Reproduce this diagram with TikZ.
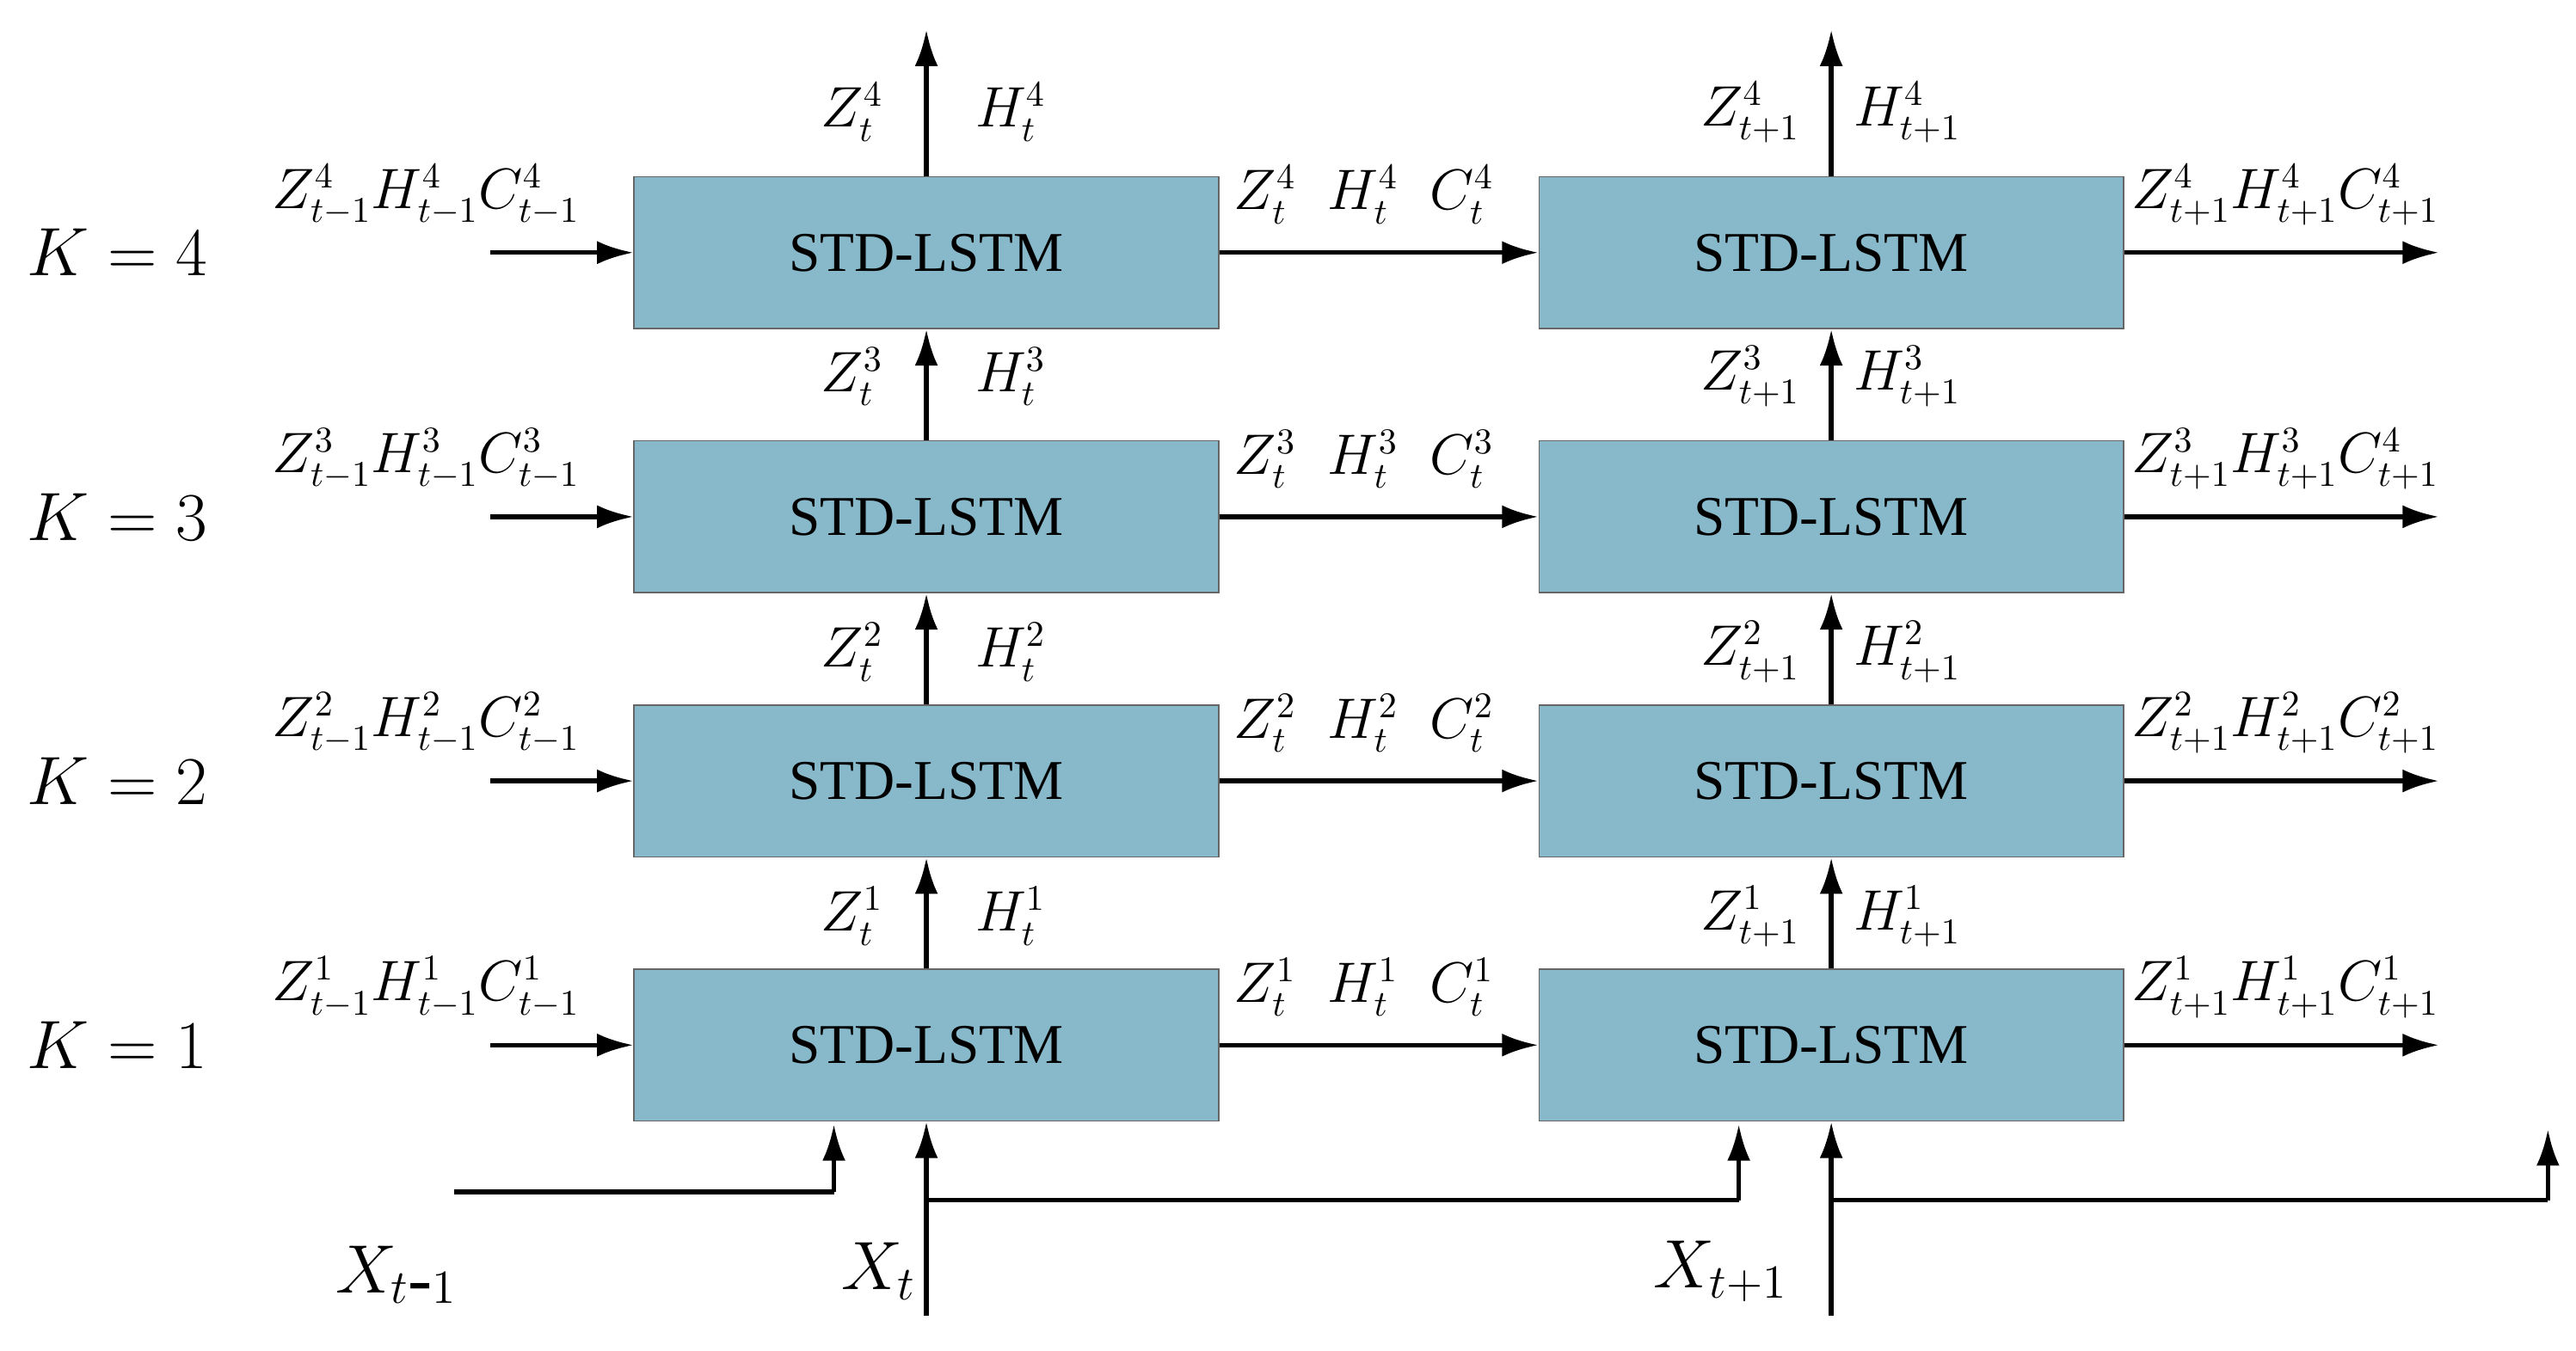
\documentclass[tikz,border=0pt]{standalone}
\usepackage{fontspec}
\setmainfont{Liberation Serif}
\usetikzlibrary{arrows.meta}
\begin{document}
\begin{tikzpicture}[x=0.5pt,y=-0.5pt,
  box/.style={draw=black!60,fill=boxc,minimum width=177pt,minimum height=46pt,inner sep=0pt,font=\fontsize{17}{20}\selectfont},
  arr/.style={line width=1.4pt,-{Latex[length=11pt,width=7pt]}},
  ln/.style={line width=1.4pt},
  lab/.style={font=\fontsize{16}{19}\selectfont,inner sep=0pt},
  klab/.style={font=\fontsize{22}{26}\selectfont,inner sep=0pt,anchor=west}]
\definecolor{boxc}{HTML}{88B9CB}
\useasboundingbox (0,0) rectangle (1560,818);
\foreach \k/\y in {4/153,3/313,2/473,1/633}{
  \node[box] (b\k1) at (561,\y) {STD-LSTM};
  \node[box] (b\k2) at (1109,\y) {STD-LSTM};
  \coordinate (in\k) at (297,\y);
  \coordinate (out\k) at (1477,\y);
  \draw[arr] (in\k) -- (b\k1.west);
  \draw[arr] (b\k1.east) -- (b\k2.west);
  \draw[arr] (b\k2.east) -- (out\k);
  \node[klab] (K\k) at (16,\y) {$K=\k$};
}
\foreach \a/\b in {1/2,2/3,3/4}{
  \draw[arr] (b\a1.north) -- (b\b1.south);
  \draw[arr] (b\a2.north) -- (b\b2.south);
}
\coordinate (top1) at (561,18);
\coordinate (top2) at (1109,18);
\draw[arr] (b41.north) -- (top1);
\draw[arr] (b42.north) -- (top2);
\foreach \k/\y in {4/68,3/228,2/395,1/555}{
  \node[lab] (zt\k) at (516,\y) {$Z_t^{\k}$};
  \node[lab] (ht\k) at (612,\y) {$H_t^{\k}$};
  \node[lab] (zu\k) at (1060,\y) {$Z_{t+1}^{\k}$};
  \node[lab] (hu\k) at (1155,\y) {$H_{t+1}^{\k}$};
}
\foreach \k/\y/\c in {4/118/4,3/278/4,2/438/2,1/598/1}{
  \node[lab] (l\k) at (258,\y) {$Z_{t-1}^{\k}H_{t-1}^{\k}C_{t-1}^{\k}$};
  \node[lab] (m\k) at (826,\y) {$Z_t^{\k}\;\;H_t^{\k}\;\;C_t^{\k}$};
  \node[lab] (r\k) at (1384,\y) {$Z_{t+1}^{\k}H_{t+1}^{\k}C_{t+1}^{\c}$};
}
\coordinate (xa) at (275,722);
\coordinate (xa2) at (505,722);
\coordinate (xat) at (505,681);
\draw[ln] (xa) -- (xa2);
\draw[arr] (xa2) -- (xat);
\coordinate (xt) at (561,797);
\coordinate (xtb) at (561,727);
\coordinate (xtc) at (1053,727);
\coordinate (xtd) at (1053,681);
\draw[arr] (xt) -- (b11.south);
\draw[ln] (xtb) -- (xtc);
\draw[arr] (xtc) -- (xtd);
\coordinate (xu) at (1109,797);
\coordinate (xub) at (1109,727);
\coordinate (xuc) at (1543,727);
\coordinate (xud) at (1543,684);
\draw[arr] (xu) -- (b12.south);
\draw[ln] (xub) -- (xuc);
\draw[arr] (xuc) -- (xud);
\node[lab,font=\fontsize{22}{26}\selectfont] (Xa) at (240,772) {$X_{t\mbox{-}1}$};
\node[lab,font=\fontsize{22}{26}\selectfont] (Xt) at (532,770) {$X_t$};
\node[lab,font=\fontsize{22}{26}\selectfont] (Xu) at (1042,770) {$X_{t+1}$};
\end{tikzpicture}
\end{document}
